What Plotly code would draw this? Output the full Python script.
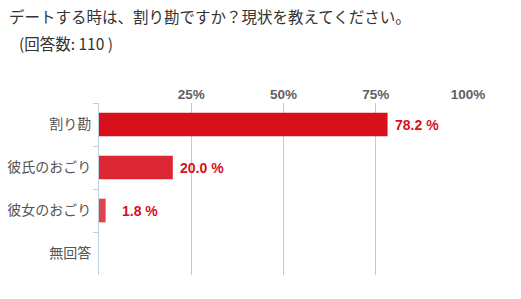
import plotly.graph_objects as go

categories = ["割り勘", "彼氏のおごり", "彼女のおごり", "無回答"]
values = [78.2, 20.0, 1.8, 0.0]
bar_colors = ["#d7101b", "#dc2633", "#e0434c", "#e45a61"]
label_xshift = [5, 5, 14, 0]
tick_vals = [25, 50, 75, 100]
tick_text = ["25%", "50%", "75%", "100%"]
title_line1 = "デートする時は、割り勘ですか？現状を教えてください。"
title_line2 = "(回答数: 110 )"

fig = go.Figure()
fig.add_trace(go.Bar(
    x=values, y=categories, orientation="h",
    marker=dict(color=bar_colors, line=dict(width=0)),
    width=0.55, hoverinfo="skip",
))

for c, v, s in zip(categories, values, label_xshift):
    if v > 0:
        fig.add_annotation(
            x=v, y=c, xref="x", yref="y", text=f"<b>{v:.1f} %</b>",
            showarrow=False, xanchor="left", yanchor="middle", xshift=s,
            font=dict(family="Liberation Sans, Arial", size=14, color="#d7101b"),
        )

fig.add_annotation(x=0, y=1, xref="paper", yref="paper", xshift=-92, yshift=87,
                   text=title_line1, showarrow=False, xanchor="left", yanchor="middle",
                   font=dict(family="Noto Sans CJK JP", size=15.5, color="#333333"))
fig.add_annotation(x=0, y=1, xref="paper", yref="paper", xshift=-82, yshift=60,
                   text=title_line2, showarrow=False, xanchor="left", yanchor="middle",
                   font=dict(family="Noto Sans CJK JP", size=15.5, color="#333333"))

fig.update_layout(
    width=521, height=299,
    margin=dict(l=99, r=53, t=103, b=24, autoexpand=False),
    paper_bgcolor="white", plot_bgcolor="white",
    showlegend=False,
    xaxis=dict(
        side="top", range=[0, 100], tickvals=tick_vals,
        ticktext=[f"<b>{t}</b>" for t in tick_text],
        tickfont=dict(family="Liberation Sans, Arial", size=13.5, color="#606060"),
        showgrid=True, gridcolor="#c8c8c8", gridwidth=1, automargin=False,
        zeroline=False, showline=False, ticks="", fixedrange=True,
    ),
    yaxis=dict(
        autorange="reversed", tickson="boundaries", ticks="outside",
        ticklen=5, tickcolor="#c0d0e0", showline=True, linecolor="#c0d0e0",
        linewidth=1, showgrid=False, zeroline=False, ticklabelstandoff=4,
        tickfont=dict(family="Noto Sans CJK JP", size=14, color="#555555"),
        fixedrange=True, automargin=False,
    ),
)

fig.write_html("out.html")
